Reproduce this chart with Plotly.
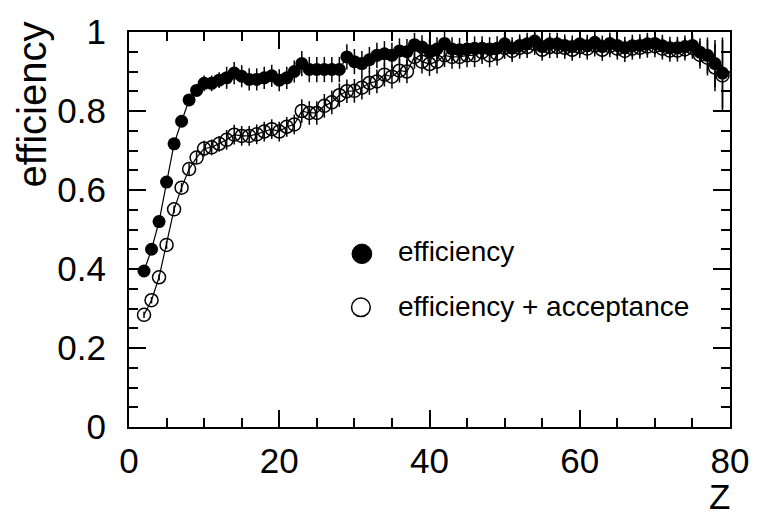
import plotly.graph_objects as go

Z = list(range(2, 80))

eff = [0.395, 0.45, 0.52, 0.62, 0.717, 0.774, 0.828, 0.852, 0.87, 0.87,
       0.878, 0.884, 0.896, 0.888, 0.88, 0.88, 0.884, 0.889, 0.878, 0.884,
       0.9, 0.92, 0.905, 0.905, 0.905, 0.905, 0.905, 0.937, 0.925, 0.92,
       0.93, 0.941, 0.945, 0.941, 0.952, 0.95, 0.968, 0.962, 0.952, 0.957,
       0.971, 0.957, 0.955, 0.957, 0.959, 0.959, 0.957, 0.959, 0.97, 0.959,
       0.966, 0.97, 0.977, 0.963, 0.97, 0.97, 0.966, 0.963, 0.97, 0.965,
       0.974, 0.963, 0.971, 0.966, 0.96, 0.965, 0.966, 0.97, 0.971, 0.965,
       0.96, 0.96, 0.963, 0.966, 0.949, 0.941, 0.92, 0.896]

eff_err = [0.008, 0.008, 0.008, 0.01, 0.01, 0.012, 0.015, 0.015, 0.02, 0.02,
           0.02, 0.028, 0.028, 0.028, 0.028, 0.028, 0.028, 0.028, 0.028, 0.028,
           0.028, 0.032, 0.032, 0.032, 0.032, 0.032, 0.032, 0.032, 0.032, 0.032,
           0.032, 0.032, 0.032, 0.032, 0.032, 0.032, 0.03, 0.03, 0.03, 0.03,
           0.03, 0.03, 0.03, 0.03, 0.03, 0.03, 0.03, 0.03, 0.028, 0.028,
           0.028, 0.028, 0.028, 0.028, 0.028, 0.028, 0.028, 0.028, 0.028, 0.028,
           0.028, 0.028, 0.028, 0.028, 0.028, 0.028, 0.028, 0.028, 0.028, 0.028,
           0.028, 0.028, 0.028, 0.028, 0.035, 0.045, 0.06, 0.09]

eff_acc = [0.284, 0.321, 0.379, 0.461, 0.551, 0.606, 0.653, 0.682, 0.705, 0.708,
           0.717, 0.727, 0.74, 0.737, 0.737, 0.741, 0.748, 0.754, 0.748, 0.76,
           0.766, 0.80, 0.795, 0.795, 0.813, 0.822, 0.84, 0.85, 0.851, 0.859,
           0.871, 0.875, 0.892, 0.887, 0.902, 0.9, 0.937, 0.925, 0.919, 0.925,
           0.941, 0.937, 0.937, 0.941, 0.941, 0.949, 0.941, 0.945, 0.96, 0.952,
           0.96, 0.962, 0.97, 0.955, 0.962, 0.962, 0.96, 0.955, 0.962, 0.958,
           0.966, 0.955, 0.964, 0.958, 0.952, 0.958, 0.96, 0.963, 0.964, 0.958,
           0.953, 0.953, 0.956, 0.96, 0.942, 0.935, 0.91, 0.89]

eff_acc_err = [0.008, 0.008, 0.008, 0.01, 0.01, 0.012, 0.015, 0.015, 0.02, 0.02,
               0.02, 0.025, 0.025, 0.025, 0.025, 0.025, 0.025, 0.025, 0.025, 0.025,
               0.025, 0.03, 0.03, 0.03, 0.03, 0.03, 0.03, 0.03, 0.03, 0.03,
               0.03, 0.03, 0.03, 0.03, 0.03, 0.03, 0.03, 0.03, 0.03, 0.03,
               0.03, 0.03, 0.03, 0.03, 0.03, 0.03, 0.03, 0.03, 0.028, 0.028,
               0.028, 0.028, 0.028, 0.028, 0.028, 0.028, 0.028, 0.028, 0.028, 0.028,
               0.028, 0.028, 0.028, 0.028, 0.028, 0.028, 0.028, 0.028, 0.028, 0.028,
               0.028, 0.028, 0.028, 0.028, 0.035, 0.045, 0.06, 0.09]

x_ticks = [0, 20, 40, 60, 80]
y_ticks = [0, 0.2, 0.4, 0.6, 0.8, 1]
y_ticktext = ["0", "0.2", "0.4", "0.6", "0.8", "1"]
legend_labels = ["efficiency", "efficiency + acceptance"]

FONT = "Liberation Sans, Arial, Helvetica, sans-serif"

fig = go.Figure()
fig.add_trace(go.Scatter(
    x=Z, y=eff_acc, mode="lines+markers", name=legend_labels[1],
    line=dict(color="black", width=1.2),
    marker=dict(symbol="circle-open", size=13, color="black", line=dict(width=1.5)),
    error_y=dict(type="data", array=eff_acc_err, color="black", thickness=1.5, width=0),
    showlegend=False,
))
fig.add_trace(go.Scatter(
    x=Z, y=eff, mode="lines+markers", name=legend_labels[0],
    line=dict(color="black", width=1.2),
    marker=dict(symbol="circle", size=13, color="black"),
    error_y=dict(type="data", array=eff_err, color="black", thickness=1.5, width=0),
    showlegend=False,
))

L, R, T, B = 129, 23, 21, 93
W, H = 761, 520
pw, ph = W - L - R, H - T - B


def px2x(p):
    return (p - L) / pw


def py2y(p):
    return (H - B - p) / ph


# manual legend (marker symbols + texts)
shapes = []
r1 = 10
shapes.append(dict(type="circle", xref="paper", yref="paper",
                   x0=px2x(365 - r1), x1=px2x(365 + r1),
                   y0=py2y(249 + r1), y1=py2y(249 - r1),
                   fillcolor="black", line=dict(color="black", width=1)))
r2 = 9.5
shapes.append(dict(type="circle", xref="paper", yref="paper",
                   x0=px2x(364 - r2), x1=px2x(364 + r2),
                   y0=py2y(304 + r2), y1=py2y(304 - r2),
                   fillcolor="rgba(0,0,0,0)", line=dict(color="black", width=1.5)))

annotations = [
    dict(text=legend_labels[0], xref="paper", yref="paper", x=px2x(401), y=py2y(247),
         xanchor="left", yanchor="middle", showarrow=False, borderpad=0,
         font=dict(family=FONT, size=28, color="black")),
    dict(text=legend_labels[1], xref="paper", yref="paper", x=px2x(401), y=py2y(303),
         xanchor="left", yanchor="middle", showarrow=False, borderpad=0,
         font=dict(family=FONT, size=28, color="black")),
    dict(text="efficiency", xref="paper", yref="paper", x=px2x(31), y=py2y(9),
         xanchor="center", yanchor="top", textangle=-90, showarrow=False, borderpad=0,
         font=dict(family=FONT, size=40, color="black")),
    dict(text="Z", xref="paper", yref="paper", x=px2x(739), y=py2y(520),
         xanchor="right", yanchor="bottom", showarrow=False, borderpad=0,
         font=dict(family=FONT, size=35, color="black")),
]

fig.update_layout(
    width=W, height=H,
    margin=dict(l=L, r=R, t=T, b=B, pad=0),
    paper_bgcolor="white", plot_bgcolor="white",
    font=dict(family=FONT, color="black"),
    shapes=shapes, annotations=annotations,
    showlegend=False,
)
fig.update_xaxes(
    range=[0, 80], tickvals=x_ticks, ticks="inside", ticklen=17, tickwidth=1.5,
    tickcolor="black", showline=True, linecolor="black", linewidth=2, mirror="ticks",
    showgrid=False, zeroline=False, tickfont=dict(family=FONT, size=35),
    ticklabelstandoff=2,
    minor=dict(dtick=5, ticklen=9, ticks="inside", tickcolor="black", tickwidth=1.5, showgrid=False),
)
fig.update_yaxes(
    range=[0, 1], tickvals=y_ticks, ticktext=y_ticktext, ticks="inside", ticklen=17,
    tickwidth=1.5, tickcolor="black", showline=True, linecolor="black", linewidth=2,
    mirror="ticks", showgrid=False, zeroline=False, tickfont=dict(family=FONT, size=35),
    ticklabelstandoff=14,
    minor=dict(dtick=0.05, ticklen=9, ticks="inside", tickcolor="black", tickwidth=1.5, showgrid=False),
)

fig.write_html("out.html")
